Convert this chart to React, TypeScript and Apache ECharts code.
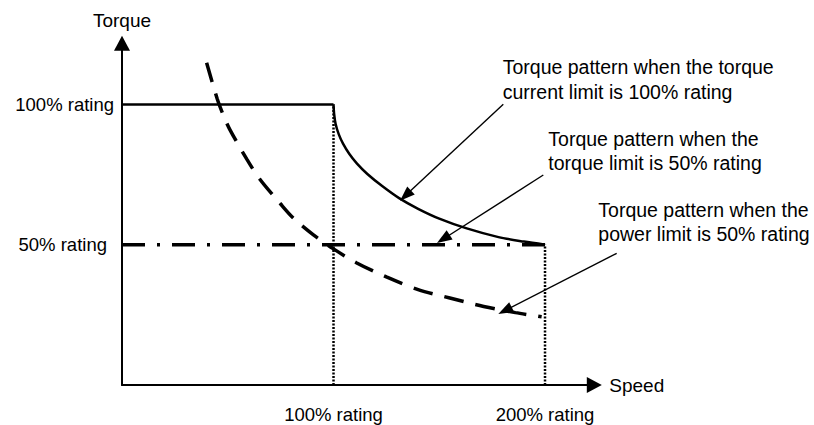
import React, { useEffect, useRef } from "react";
import * as echarts from "echarts";

// Torque pattern when the torque current limit is 100% rating
const flatSpeed = [0, 100];
const flatTorque = [100, 100];
const curveSpeed = [100, 100.3, 101, 102.5, 104.5, 107.5, 111, 116, 123, 131, 140, 150, 163, 178, 190, 200];
const curveTorque = [100, 96.5, 93, 89.3, 86, 82.3, 79, 75.2, 70.9, 66.6, 62.8, 59.3, 55.8, 52.7, 51.1, 50];

// Torque pattern when the torque limit is 50% rating
const limitSpeed = [0, 200];
const limitTorque = [50, 50];

// Torque pattern when the power limit is 50% rating
const powerSpeed = [40, 45, 48, 51, 59, 65, 75, 81, 90.5, 100, 111, 125, 140, 155, 171, 186, 198.4];
const powerTorque = [114.8, 102, 96, 91, 80.5, 73.5, 64.5, 59.5, 53.5, 48.5, 43.5, 38.5, 34, 31, 28, 25.8, 24.3];

// Rating guide lines
const guideSpeeds = [100, 200];
const guideTops = [100, 50];

// Tick labels
const xTickValues = [100, 200];
const xTickLabels = ["100% rating", "200% rating"];
const yTickValues = [50, 100];
const yTickLabels = ["50% rating", "100% rating"];

const xName = "Speed";
const yName = "Torque";

const noteTexts = [
  "Torque pattern when the torque\ncurrent limit is 100% rating",
  "Torque pattern when the\ntorque limit is 50% rating",
  "Torque pattern when the\npower limit is 50% rating",
];

const zip = (xs: number[], ys: number[]) => xs.map((x, i) => [x, ys[i]]);

const FONT = "'Liberation Sans', Arial, Helvetica, sans-serif";

export default function App() {
  const ref = useRef<HTMLDivElement>(null);

  useEffect(() => {
    if (!ref.current) return;
    const chart = echarts.init(ref.current, null, { renderer: "svg" });

    const lineBase = {
      type: "line" as const,
      symbol: "none",
      silent: true,
      animation: false,
      emphasis: { disabled: true },
    };

    const guideSeries = guideSpeeds.map((s, i) => ({
      ...lineBase,
      name: "guide" + i,
      data: [
        [s, 0],
        [s, guideTops[i]],
      ],
      lineStyle: { color: "#000", width: 2.5, type: [2, 1.5], cap: "butt" },
      z: 1,
    }));

    const arrowStyle = { color: "#000", width: 1.4, type: "solid" };
    const arrows = [
      [{ x: 503.3, y: 104.3 }, { x: 405.5, y: 195.6 }],
      [{ x: 543.3, y: 175 }, { x: 443.3, y: 239 }],
      [{ x: 616.7, y: 253.3 }, { x: 505, y: 310.6 }],
    ];

    const option: any = {
      animation: false,
      backgroundColor: "#fff",
      grid: {
        left: 122,
        right: 219.7,
        top: 43.2,
        bottom: 40,
        containLabel: false,
        outerBoundsMode: "none",
      },
      xAxis: {
        type: "value",
        min: 0,
        max: 223.3,
        interval: 100,
        name: xName,
        nameLocation: "end",
        nameGap: 15,
        nameTextStyle: {
          fontFamily: FONT,
          fontSize: 19,
          color: "#000",
          align: "left",
          verticalAlign: "middle",
        },
        axisLine: {
          lineStyle: { color: "#000", width: 2 },
          symbol: ["none", "triangle"],
          symbolSize: [16, 15],
        },
        axisTick: { show: false },
        splitLine: { show: false },
        axisLabel: {
          margin: 20,
          fontFamily: FONT,
          fontSize: 18.5,
          color: "#000",
          showMinLabel: true,
          showMaxLabel: false,
          formatter: (v: number) => {
            const i = xTickValues.indexOf(v);
            return i >= 0 ? xTickLabels[i] : "";
          },
        },
      },
      yAxis: {
        type: "value",
        min: 0,
        max: 121.8,
        interval: 50,
        name: yName,
        nameLocation: "end",
        nameGap: 23,
        nameTextStyle: {
          fontFamily: FONT,
          fontSize: 19,
          color: "#000",
          align: "center",
          verticalAlign: "middle",
        },
        axisLine: {
          lineStyle: { color: "#000", width: 2 },
          symbol: ["none", "triangle"],
          symbolSize: [16, 15],
        },
        axisTick: { show: false },
        splitLine: { show: false },
        axisLabel: {
          margin: 8,
          fontFamily: FONT,
          fontSize: 18.5,
          color: "#000",
          showMaxLabel: false,
          formatter: (v: number) => {
            const i = yTickValues.indexOf(v);
            if (i < 0) return "";
            return v === 50 ? "{s|" + yTickLabels[i] + "}" : yTickLabels[i];
          },
          rich: {
            s: {
              fontFamily: FONT,
              fontSize: 18.5,
              color: "#000",
              padding: [0, 7, 0, 0],
            },
          },
        },
      },
      series: [
        ...guideSeries,
        {
          ...lineBase,
          name: "flat",
          data: zip(flatSpeed, flatTorque),
          lineStyle: { color: "#000", width: 2.5 },
          z: 3,
        },
        {
          ...lineBase,
          name: "current limit 100%",
          data: zip(curveSpeed, curveTorque),
          smooth: 0.3,
          lineStyle: { color: "#000", width: 2.5 },
          z: 3,
          markLine: {
            silent: true,
            animation: false,
            symbol: ["none", "triangle"],
            symbolSize: [11, 15],
            label: { show: false },
            lineStyle: arrowStyle,
            emphasis: { disabled: true },
            data: arrows,
          },
        },
        {
          ...lineBase,
          name: "torque limit 50%",
          data: zip(limitSpeed, limitTorque),
          lineStyle: { color: "#000", width: 3.5, type: [23, 12, 3, 12], cap: "butt" },
          z: 2,
        },
        {
          ...lineBase,
          name: "power limit 50%",
          data: zip(powerSpeed, powerTorque),
          smooth: 0.3,
          lineStyle: { color: "#000", width: 3.5, type: [20, 12], cap: "butt" },
          z: 2,
        },
      ],
      graphic: [
        { x: 502.7, y: 55.2 },
        { x: 548.3, y: 127 },
        { x: 598.3, y: 198 },
      ].map((p, i) => ({
        type: "text",
        x: p.x,
        y: p.y,
        silent: true,
        style: {
          text: noteTexts[i],
          fontFamily: FONT,
          fontSize: 19.5,
          lineHeight: 24.3,
          fill: "#000",
          textAlign: "left",
          textVerticalAlign: "top",
        },
      })),
    };

    chart.setOption(option);
    return () => chart.dispose();
  }, []);

  return (
    <div
      ref={ref}
      style={{ position: "absolute", left: 0, top: 0, width: 814, height: 425 }}
    />
  );
}
